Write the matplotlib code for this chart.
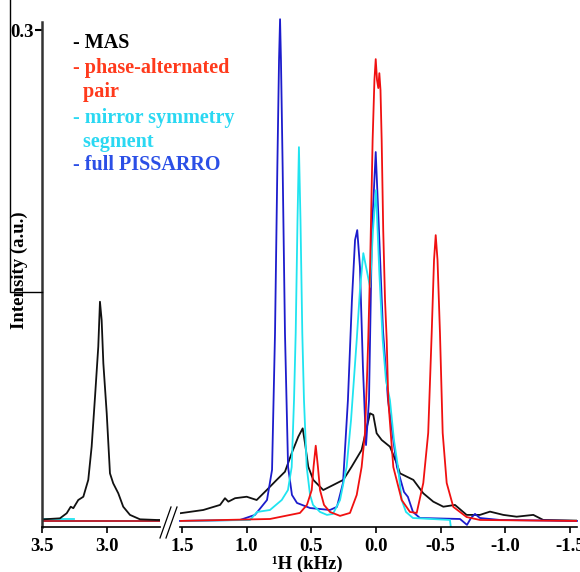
import numpy as np
import matplotlib.pyplot as plt
from matplotlib.lines import Line2D

plt.rcParams['font.family'] = ['Liberation Serif', 'DejaVu Serif']
plt.rcParams['font.weight'] = 'bold'
plt.rcParams['axes.unicode_minus'] = False

# MAS, left part of the broken axis (kHz, a.u.)
mas_left_x = [3.49, 3.362, 3.31, 3.279, 3.259, 3.221, 3.182, 3.144, 3.118, 3.092,
              3.067, 3.054, 3.041, 3.028, 3.002, 2.977, 2.952, 2.913, 2.875,
              2.823, 2.746, 2.618, 2.592]
mas_left_y = [0.001, 0.0016, 0.0047, 0.0087, 0.0078, 0.0128, 0.0148, 0.0251,
              0.0454, 0.0759, 0.1065, 0.134, 0.1228, 0.0964, 0.0658, 0.0291,
              0.023, 0.0169, 0.0087, 0.0037, 0.001, 0.0006, 0.0006]
cyan_left_x = [3.5, 3.25]
cyan_left_y = [0.0012, 0.0012]
red_left_x = [3.5, 2.592]
red_left_y = [0.0, 0.0]

# MAS, right part
mas_x = [1.516, 1.336, 1.206, 1.168, 1.142, 1.09, 1.0, 0.923, 0.845, 0.768,
         0.704, 0.652, 0.601, 0.567, 0.549, 0.524, 0.485, 0.408, 0.33, 0.253,
         0.188, 0.111, 0.046, 0.021, -0.005, -0.044, -0.108, -0.16, -0.186,
         -0.289, -0.366, -0.443, -0.521, -0.611, -0.701, -0.804, -0.882,
         -0.985, -1.088, -1.217, -1.294, -1.555]
mas_y = [0.0047, 0.0067, 0.0098, 0.0139, 0.0118, 0.0139, 0.0148, 0.0128,
         0.0189, 0.0251, 0.0301, 0.0414, 0.0515, 0.0566, 0.0475, 0.0332,
         0.0251, 0.0189, 0.022, 0.0251, 0.0332, 0.0434, 0.0658, 0.0648,
         0.0536, 0.0495, 0.0454, 0.0353, 0.0291, 0.0251, 0.0169, 0.0118,
         0.0087, 0.0098, 0.0037, 0.0037, 0.0057, 0.0037, 0.0026, 0.0037,
         0.0006, 0.0002]

# phase-alternated pair
red_x = [1.516, 0.82, 0.588, 0.534, 0.497, 0.483, 0.466, 0.449, 0.433, 0.402,
         0.356, 0.278, 0.201, 0.149, 0.111, 0.085, 0.07, 0.06, 0.046, 0.026,
         0.012, 0.002, -0.008, -0.018, -0.026, -0.035, -0.044, -0.056, -0.07,
         -0.083, -0.095, -0.134, -0.199, -0.263, -0.315, -0.366, -0.404,
         -0.431, -0.449, -0.462, -0.476, -0.495, -0.516, -0.547, -0.598,
         -0.701, -0.804, -1.555]
red_y = [0.0, 0.0012, 0.0049, 0.0098, 0.0189, 0.033, 0.046, 0.033, 0.0189,
         0.0098, 0.0055, 0.0031, 0.0049, 0.0159, 0.033, 0.0538, 0.0862,
         0.1106, 0.1534, 0.2328, 0.2695, 0.2823, 0.2695, 0.2646, 0.2737,
         0.2633, 0.2328, 0.1778, 0.135, 0.1106, 0.0739, 0.033, 0.0128,
         0.0055, 0.0049, 0.0232, 0.0538, 0.1149, 0.1595, 0.1747, 0.1595,
         0.1149, 0.0538, 0.0232, 0.0086, 0.0024, 0.0006, 0.0]

# mirror symmetry segment
cyan_x = [1.516, 0.974, 0.92, 0.82, 0.729, 0.681, 0.652, 0.634, 0.621, 0.607,
          0.596, 0.584, 0.57, 0.557, 0.536, 0.51, 0.487, 0.433, 0.379, 0.333,
          0.278, 0.227, 0.193, 0.149, 0.124, 0.098, 0.072, 0.046, 0.023, 0.0,
          -0.026, -0.052, -0.077, -0.108, -0.139, -0.17, -0.199, -0.232,
          -0.286, -0.572, -0.58]
cyan_y = [0.0, 0.0006, 0.0055, 0.0067, 0.0128, 0.0189, 0.033, 0.0739, 0.1149,
          0.1839, 0.2285, 0.1839, 0.1149, 0.0739, 0.033, 0.0159, 0.0098,
          0.0055, 0.0037, 0.0043, 0.0128, 0.033, 0.0617, 0.1106, 0.1411,
          0.1637, 0.1534, 0.143, 0.1778, 0.2022, 0.1515, 0.1106, 0.0862,
          0.0739, 0.0495, 0.033, 0.0128, 0.0055, 0.0018, 0.0006, -0.0043]

# full PISSARRO
blue_x = [1.516, 1.052, 0.936, 0.843, 0.804, 0.781, 0.763, 0.75, 0.742, 0.735,
          0.722, 0.704, 0.68, 0.65, 0.611, 0.51, 0.356, 0.302, 0.255, 0.217,
          0.186, 0.162, 0.145, 0.124, 0.101, 0.077, 0.054, 0.031, 0.002,
          -0.023, -0.054, -0.093, -0.162, -0.217, -0.247, -0.286, -0.34,
          -0.65, -0.704, -0.735, -0.766, -0.804, -0.959, -1.555]
blue_y = [0.0, 0.0006, 0.0037, 0.0128, 0.0312, 0.1149, 0.2163, 0.2817, 0.3067,
          0.2817, 0.2163, 0.1149, 0.033, 0.0159, 0.011, 0.0079, 0.0067, 0.0086,
          0.0232, 0.0739, 0.135, 0.1717, 0.1778, 0.1552, 0.0941, 0.0464,
          0.0739, 0.1778, 0.2255, 0.1778, 0.1167, 0.0739, 0.033, 0.0177,
          0.0147, 0.0055, 0.0018, 0.0012, -0.0024, 0.0018, 0.0043, 0.0018,
          0.0006, 0.0]

left_ticks = [3.5, 3.0]
right_ticks = [1.5, 1.0, 0.5, 0.0, -0.5, -1.0, -1.5]

legend_lines = ['- MAS', '- phase-alternated', '  pair', '- mirror symmetry',
                '  segment', '- full PISSARRO']
legend_colors = ['black', '#ff3a1c', '#ff3a1c', '#2ad8f2', '#2ad8f2', '#2b4fe6']

W, H = 580, 572
fig = plt.figure(figsize=(5.8, 5.72), dpi=100)
ax1 = fig.add_axes([42 / W, 45 / H, 118 / W, 505 / H])
ax2 = fig.add_axes([180 / W, 45 / H, 397 / W, 505 / H])

c_red, c_cyan, c_blue, c_black = '#f01010', '#20e4f0', '#1c1ccc', '#111111'
lw = 1.3

ax1.plot(cyan_left_x, cyan_left_y, color=c_cyan, lw=lw)
ax1.plot(red_left_x, red_left_y, color='#b01020', lw=lw)
ax1.plot(mas_left_x, mas_left_y, color=c_black, lw=lw)

ax2.plot(mas_x, mas_y, color=c_black, lw=lw)
ax2.plot(blue_x, blue_y, color=c_blue, lw=lw, clip_on=False)
ax2.plot(cyan_x, cyan_y, color=c_cyan, lw=lw)
ax2.plot(red_x, red_y, color=c_red, lw=lw)

for ax in (ax1, ax2):
    ax.set_ylim(-0.0037, 0.305)
    ax.spines['top'].set_visible(False)
    ax.spines['right'].set_visible(False)
    ax.spines['bottom'].set_linewidth(1.2)
    ax.tick_params(axis='x', direction='out', length=4, width=1.2,
                   labelsize=13.5, pad=4)

ax1.set_xlim(3.5, 2.592)
ax1.set_xticks(left_ticks)
ax1.set_xticklabels(['%.1f' % t for t in left_ticks])
ax1.spines['left'].set_linewidth(1.8)
ax1.spines['left'].set_color('#333333')
ax1.set_yticks([0.3])
ax1.set_yticklabels(['0.3'])
ax1.tick_params(axis='y', direction='out', length=5, width=1.5,
                labelsize=13.5, pad=1)

ax2.set_xlim(1.516, -1.555)
ax2.set_xticks(right_ticks)
ax2.set_xticklabels(['%.1f' % t for t in right_ticks])
ax2.spines['left'].set_visible(False)
ax2.set_yticks([])

# axis break marks
for x0 in (160, 166):
    fig.add_artist(Line2D([x0 / W, (x0 + 11) / W], [1 - 538 / H, 1 - 507 / H],
                          color='black', lw=0.9))
# thin frame remnant at the top left
fig.add_artist(Line2D([10 / W, 10 / W, 42 / W], [1.0, 1 - 292 / H, 1 - 292 / H],
                      color='black', lw=1.0))

fig.text(19 / W, 1 - 270 / H, 'Intensity (a.u.)', rotation=90, fontsize=13.5,
         ha='center', va='center')
fig.text(307 / W, 1 - 564 / H, '¹H (kHz)', fontsize=13.5, ha='center', va='center')

ys = [43, 68, 92, 118, 142, 165]
for txt, col, y in zip(legend_lines, legend_colors, ys):
    fig.text(73 / W, 1 - y / H, txt, color=col, fontsize=14.5, ha='left', va='center')

fig.savefig('out.png', dpi=100)
